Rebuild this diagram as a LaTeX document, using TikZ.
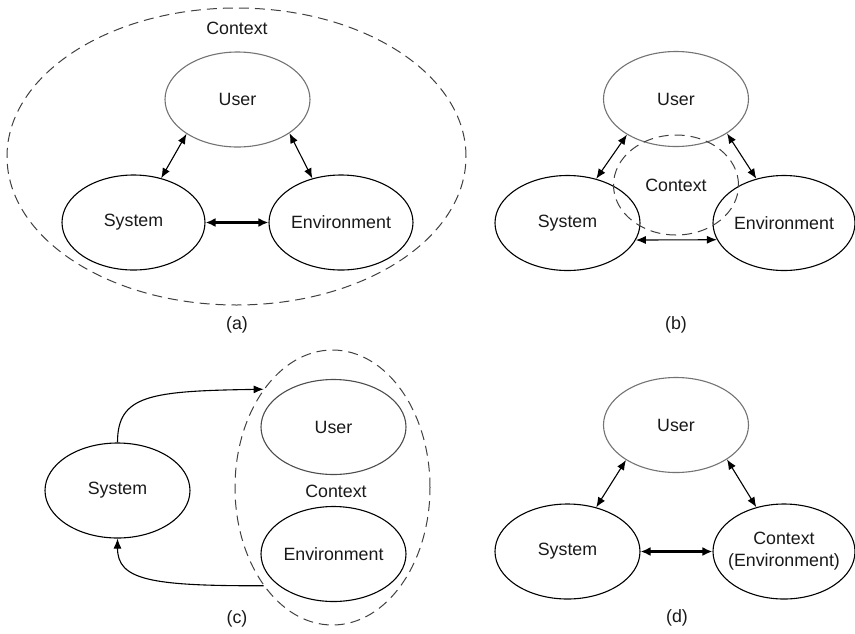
\documentclass[tikz,border=0pt]{standalone}
\usepackage{fontspec}
\setmainfont{Liberation Sans}
\usetikzlibrary{shapes.geometric,arrows.meta}
\newcommand\figfont{\fontsize{17.8}{22}\selectfont}
\begin{document}
\begin{tikzpicture}[x=1pt,y=-1pt,
  ell/.style={ellipse, draw=black, line width=1.1pt, inner sep=0pt, minimum width=145pt, minimum height=95pt, align=center, font=\figfont, text=black!90},
  usr/.style={ell, draw=black!55},
  ctxline/.style={draw=black!75, line width=1pt, dash pattern=on 10pt off 6pt},
  dashell/.style={ellipse, ctxline, inner sep=0pt, font=\figfont, text=black!90},
  captxt/.style={font=\figfont, text=black!90, inner sep=0pt},
  arr/.style={{Latex[length=10pt,width=8pt]}-{Latex[length=10pt,width=8pt]}, line width=1.1pt},
  thickarr/.style={{Latex[length=10pt,width=9pt]}-{Latex[length=10pt,width=9pt]}, line width=2.2pt},
  onearr/.style={-{Latex[length=10pt,width=8pt]}, line width=1.1pt}
]
\useasboundingbox (0,0) rectangle (855,633);

% ---------- (a)
\node[dashell, minimum width=459pt, minimum height=297pt] (actx) at (236.5,156.5) {};
\node[captxt] (actxl) at (237,28) {Context};
\node[usr] (au) at (237.5,99.5) {User};
\node[ell, minimum width=143pt] (as) at (133.5,222.5) {System};
\node[ell, minimum width=144pt] (ae) at (341,222.5) {Environment};
\draw[arr] (as.58) -- (au.214);
\draw[arr] (ae.123) -- (au.327);
\draw[thickarr] (as.east) -- (ae.west);
\node[captxt] (acap) at (237,325) {(a)};

% ---------- (b)
\node[usr] (bu) at (676,99) {User};
\node[ell] (bs) at (567.5,223) {System};
\node[ell, minimum width=142pt] (be) at (784,223) {Environment};
\node[dashell, minimum width=125pt, minimum height=100pt] (bctx) at (676,185) {Context};
\draw[arr] (bs.57) -- (bu.216);
\draw[arr] (be.122) -- (bu.326);
\draw[arr] (bs.-14) -- (be.194);
\node[captxt] (bcap) at (676,325) {(b)};

% ---------- (c)
\node[dashell, minimum width=195pt, minimum height=275pt] (cctx) at (332.5,487.5) {};
\node[ell] (cs) at (117.5,490.5) {System};
\node[usr, draw=black!70] (cu) at (333.5,427) {User};
\node[captxt] (cctxl) at (336,491) {Context};
\node[ell] (ce) at (333.5,554) {Environment};
\draw[onearr] (cs.north) .. controls (117.5,395) and (150,391) .. (cctx.125.8);
\draw[onearr] (cctx.235.8) .. controls (150,586) and (117.5,580) .. (cs.south);
\node[captxt] (ccap) at (237,619) {(c)};

% ---------- (d)
\node[usr] (du) at (676,425) {User};
\node[ell] (ds) at (567.5,551.5) {System};
\node[ell, minimum width=142pt, label={[align=center, font=\figfont, text=black!90, inner sep=0pt]center:Context\\(Environment)}] (de) at (784,551.5) {};
\draw[arr] (ds.57) -- (du.215);
\draw[arr] (de.122) -- (du.326);
\draw[thickarr] (ds.east) -- (de.west);
\node[captxt] (dcap) at (677,618) {(d)};
\end{tikzpicture}
\end{document}
